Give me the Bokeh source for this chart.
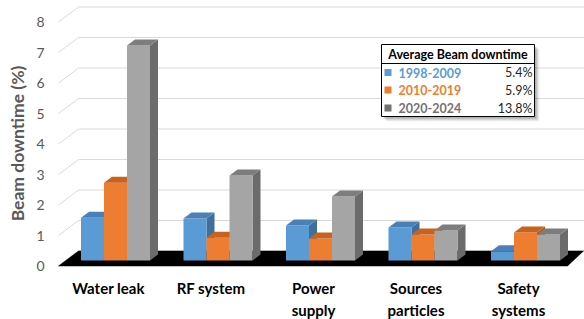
from bokeh.plotting import figure
from bokeh.models import Range1d
from bokeh.core.properties import value
from bokeh.embed import file_html
from bokeh.resources import INLINE
import math

# ---------------- data ----------------
categories = ["Water leak", "RF system", "Power\nsupply", "Sources\nparticles", "Safety\nsystems"]
series_names = ["1998-2009", "2010-2019", "2020-2024"]
s1998 = [1.40, 1.38, 1.15, 1.08, 0.30]
s2010 = [2.55, 0.75, 0.72, 0.85, 0.92]
s2020 = [7.05, 2.79, 2.10, 0.98, 0.85]
avg_downtime = ["5.4%", "5.9%", "13.8%"]
y_ticks = [0, 1, 2, 3, 4, 5, 6, 7, 8]
y_title = "Beam downtime (%)"
legend_title = "Average Beam downtime"

# ---------------- geometry (pixel helpers) ----------------
W, H = 584, 319
X0_PX, XS = 108.0, 102.5     # px of group 0 centre (front plane), px per category
Y0_PX, YS = 265.5, 30.5      # px of value 0 (front plane), px per unit

def X(px):
    return (px - X0_PX) / XS

def Y(py):
    return (Y0_PX - py) / YS

def dxp(px):
    return px / XS

def dyp(px):
    return px / YS

p = figure(width=W, height=H, output_backend="svg", toolbar_location=None,
           x_axis_location=None, y_axis_location=None,
           x_range=Range1d(X(0), X(W)), y_range=Range1d(Y(H), Y(0)),
           min_border=0, outline_line_color=None)
p.grid.visible = False
p.background_fill_color = "white"
p.border_fill_color = "white"

FONT = value("Lato")
GRAY_TXT = "#595959"

# back-wall gridlines
BACK_DX, BACK_DY = dxp(20), dyp(15)
FL = X(58)
gx, gy = [], []
for v in y_ticks:
    gx.append([FL, FL + BACK_DX, X(W + 10)])
    gy.append([v, v + BACK_DY, v + BACK_DY])
p.multi_line(gx, gy, line_color="#d9d9d9", line_width=1)

# floor
p.patch([FL, FL + BACK_DX, X(583), X(567)], [0, BACK_DY, BACK_DY, 0],
        fill_color="black", line_color="black", line_width=0.5)

# bars
BAR_W = dxp(23)
PLANE_DX, PLANE_DY = dxp(7), dyp(5.5)
DEP_DX, DEP_DY = dxp(8), dyp(6)
colors = [
    ("#5b9bd5", "#4a80b8", "#3f6f9c"),
    ("#ed7d31", "#c8621c", "#b05a1e"),
    ("#a5a5a5", "#7d7d7d", "#6b6b6b"),
]
for j, vals in enumerate([s1998, s2010, s2020]):
    front_c, top_c, side_c = colors[j]
    fx, fy, tx, ty, sx, sy = [], [], [], [], [], []
    for i, v in enumerate(vals):
        l = i + PLANE_DX + dxp(-34.5) + j * BAR_W
        r = l + BAR_W
        b = PLANE_DY
        t = PLANE_DY + v
        fx.append([l, r, r, l]); fy.append([b, b, t, t])
        tx.append([l, r, r + DEP_DX, l + DEP_DX]); ty.append([t, t, t + DEP_DY, t + DEP_DY])
        sx.append([r, r + DEP_DX, r + DEP_DX, r]); sy.append([b, b + DEP_DY, t + DEP_DY, t])
    p.patches(sx, sy, fill_color=side_c, line_color=None)
    p.patches(fx, fy, fill_color=front_c, line_color=None)
    p.patches(tx, ty, fill_color=top_c, line_color=None)

# y tick labels
p.text(x=[X(44)] * len(y_ticks), y=y_ticks, text=[str(v) for v in y_ticks],
       text_font=FONT, text_font_size="14px", text_color=GRAY_TXT,
       text_align="right", text_baseline="middle")

# y title
p.text(x=[X(17)], y=[Y(143)], text=[y_title], angle=math.pi / 2,
       text_font=FONT, text_font_size="17.5px", text_font_style="bold",
       text_color=GRAY_TXT, text_align="center", text_baseline="middle")

# category labels
lx, ly, lt = [], [], []
for i, c in enumerate(categories):
    for k, line in enumerate(c.split("\n")):
        lx.append(i); ly.append(Y(287 + k * 22)); lt.append(line)
p.text(x=lx, y=ly, text=lt, text_font=FONT, text_font_size="15px",
       text_font_style="bold", text_color="black",
       text_align="center", text_baseline="middle")

# legend table
LB_L, LB_R, LB_T, LB_B = 381, 534, 44, 116
for off, a in [(5, 0.05), (4, 0.07), (3, 0.09), (2, 0.12)]:
    p.quad(left=[X(LB_L + off)], right=[X(LB_R + off)], top=[Y(LB_T + off)],
           bottom=[Y(LB_B + off)], fill_color="black", fill_alpha=a, line_color=None)
p.quad(left=[X(LB_L)], right=[X(LB_R)], top=[Y(LB_T)], bottom=[Y(LB_B)],
       fill_color="white", line_color="black", line_width=1)
p.line([X(LB_L), X(LB_R)], [Y(63), Y(63)], line_color="black", line_width=1)
p.text(x=[X((LB_L + LB_R) / 2)], y=[Y(54)], text=[legend_title], text_font=FONT,
       text_font_size="12.5px", text_font_style="bold", text_color="black",
       text_align="center", text_baseline="middle")
leg_text_colors = ["#5b9bd5", "#ed7d31", "#767171"]
leg_sq_colors = ["#5b9bd5", "#ed7d31", "#767171"]
rows_y = [72, 89.5, 107.5]
for k in range(3):
    yy = Y(rows_y[k])
    p.quad(left=[X(384)], right=[X(391)], top=[yy + dyp(3.5)], bottom=[yy - dyp(3.5)],
           fill_color=leg_sq_colors[k], line_color=None)
    p.text(x=[X(398)], y=[yy], text=[series_names[k]], text_font=FONT,
           text_font_size="12.5px", text_font_style="bold", text_color=leg_text_colors[k],
           text_align="left", text_baseline="middle")
    p.text(x=[X(532)], y=[yy], text=[avg_downtime[k]], text_font=FONT,
           text_font_size="12.5px", text_color="#262626",
           text_align="right", text_baseline="middle")

open("out.html", "w").write(file_html(p, INLINE))
